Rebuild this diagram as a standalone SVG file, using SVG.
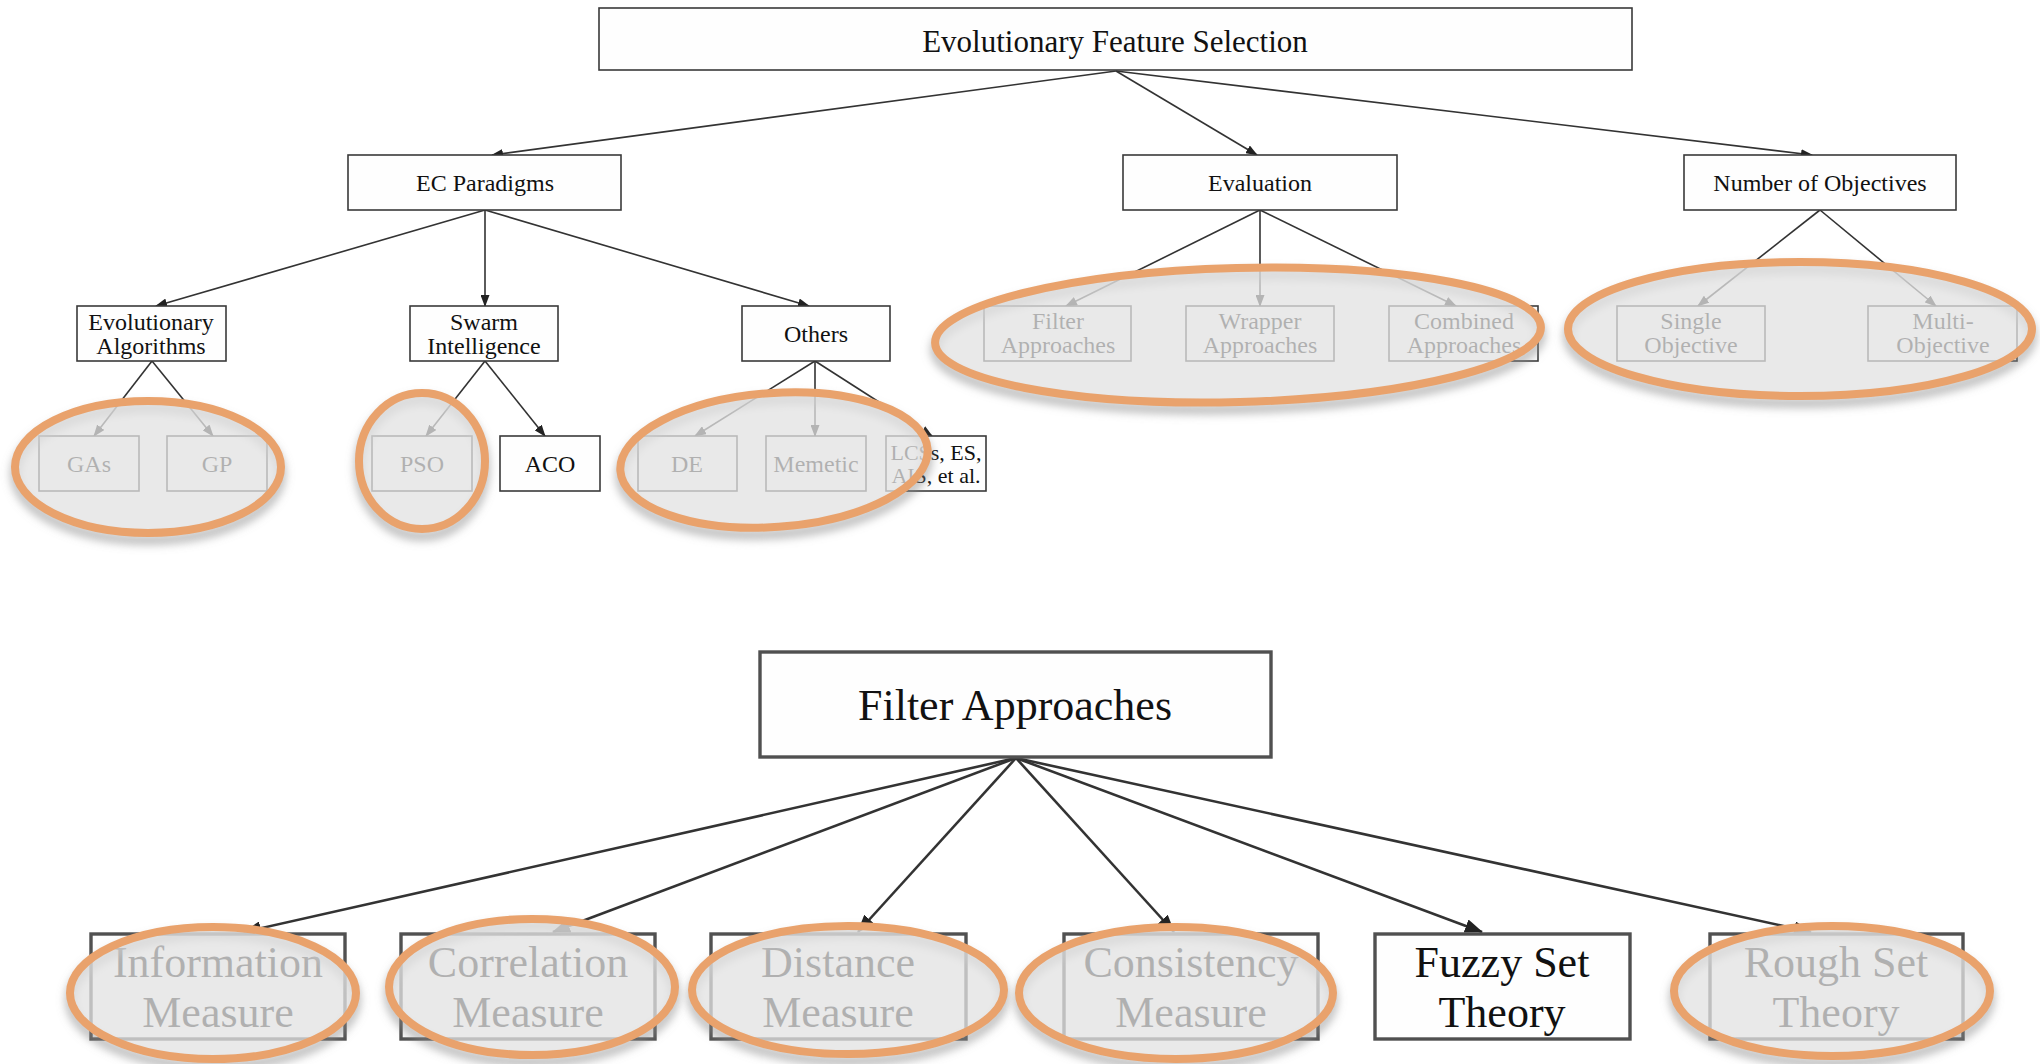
<svg xmlns="http://www.w3.org/2000/svg" width="2040" height="1064" viewBox="0 0 2040 1064">
<style>
  .box{fill:#fefefe;stroke:#3a3a3a;stroke-width:1.6}
  .bbox{fill:#fefefe;stroke:#505050;stroke-width:3.4}
  .t{font-family:"Liberation Serif","Times New Roman",serif;fill:#111;text-anchor:middle}
  .s24{font-size:24px}
  .s22{font-size:22px}
  .s31{font-size:31px}
  .s44{font-size:44px}
  .e{stroke:#333;stroke-width:1.6;fill:none;marker-end:url(#ah)}
  .eb{stroke:#333;stroke-width:2.6;fill:none;marker-end:url(#ahb)}
  .hl{fill:#e2e2e2;fill-opacity:0.76;stroke:#E9A26C;stroke-width:8}
  .hs{fill:none;stroke:#8a8a8a;stroke-opacity:0.55;stroke-width:10;filter:url(#bl)}
</style>
<defs>
  <marker id="ah" markerUnits="userSpaceOnUse" markerWidth="12" markerHeight="9" refX="11" refY="4.5" orient="auto">
    <path d="M0,0 L12,4.5 L0,9 z" fill="#222"/>
  </marker>
  <marker id="ahb" markerUnits="userSpaceOnUse" markerWidth="18" markerHeight="14" refX="17" refY="7" orient="auto">
    <path d="M0,0 L18,7 L0,14 z" fill="#222"/>
  </marker>
  <filter id="bl" x="-20%" y="-30%" width="140%" height="170%">
    <feGaussianBlur stdDeviation="4"/>
  </filter>
</defs>

<rect width="2040" height="1064" fill="#ffffff"/>

<g id="connectors">
  <line class="e" x1="1116" y1="71" x2="492" y2="155"/>
  <line class="e" x1="1116" y1="71" x2="1257" y2="155"/>
  <line class="e" x1="1116" y1="71" x2="1812" y2="155"/>
  <line class="e" x1="485" y1="210" x2="156" y2="306"/>
  <line class="e" x1="485" y1="210" x2="485" y2="306"/>
  <line class="e" x1="485" y1="210" x2="809" y2="306"/>
  <line class="e" x1="1260" y1="210" x2="1066" y2="306"/>
  <line class="e" x1="1260" y1="210" x2="1260" y2="306"/>
  <line class="e" x1="1260" y1="210" x2="1456" y2="306"/>
  <line class="e" x1="1820" y1="210" x2="1698" y2="306"/>
  <line class="e" x1="1820" y1="210" x2="1936" y2="306"/>
  <line class="e" x1="152" y1="361" x2="94" y2="436"/>
  <line class="e" x1="152" y1="361" x2="213" y2="436"/>
  <line class="e" x1="485" y1="361" x2="426" y2="436"/>
  <line class="e" x1="485" y1="361" x2="545" y2="436"/>
  <line class="e" x1="815" y1="361" x2="695" y2="436"/>
  <line class="e" x1="815" y1="361" x2="815" y2="436"/>
  <line class="e" x1="815" y1="361" x2="932" y2="436"/>
  <line class="eb" x1="1016" y1="758" x2="244" y2="932"/>
  <line class="eb" x1="1016" y1="758" x2="553" y2="932"/>
  <line class="eb" x1="1016" y1="758" x2="858" y2="932"/>
  <line class="eb" x1="1016" y1="758" x2="1174" y2="932"/>
  <line class="eb" x1="1016" y1="758" x2="1482" y2="932"/>
  <line class="eb" x1="1016" y1="758" x2="1811" y2="932"/>
</g>

<g id="n-root"><rect class="box" x="599" y="8" width="1033" height="62"/><text class="t s31" x="1115" y="52">Evolutionary Feature Selection</text></g>
<g id="n-ec"><rect class="box" x="348" y="155" width="273" height="55"/><text class="t s24" x="485" y="191">EC Paradigms</text></g>
<g id="n-eval"><rect class="box" x="1123" y="155" width="274" height="55"/><text class="t s24" x="1260" y="191">Evaluation</text></g>
<g id="n-numobj"><rect class="box" x="1684" y="155" width="272" height="55"/><text class="t s24" x="1820" y="191">Number of Objectives</text></g>

<g id="n-ea"><rect class="box" x="77" y="306" width="149" height="55"/><text class="t s24" x="151" y="330">Evolutionary</text><text class="t s24" x="151" y="354">Algorithms</text></g>
<g id="n-si"><rect class="box" x="410" y="306" width="148" height="55"/><text class="t s24" x="484" y="330">Swarm</text><text class="t s24" x="484" y="354">Intelligence</text></g>
<g id="n-others"><rect class="box" x="742" y="306" width="148" height="55"/><text class="t s24" x="816" y="342">Others</text></g>

<g id="n-gas"><rect class="box" x="39" y="436" width="100" height="55"/><text class="t s24" x="89" y="472">GAs</text></g>
<g id="n-gp"><rect class="box" x="167" y="436" width="100" height="55"/><text class="t s24" x="217" y="472">GP</text></g>
<g id="n-pso"><rect class="box" x="372" y="436" width="100" height="55"/><text class="t s24" x="422" y="472">PSO</text></g>
<g id="n-aco"><rect class="box" x="500" y="436" width="100" height="55"/><text class="t s24" x="550" y="472">ACO</text></g>
<g id="n-de"><rect class="box" x="638" y="436" width="99" height="55"/><text class="t s24" x="687" y="472">DE</text></g>
<g id="n-memetic"><rect class="box" x="766" y="436" width="100" height="55"/><text class="t s24" x="816" y="472">Memetic</text></g>
<g id="n-lcs"><rect class="box" x="886" y="436" width="100" height="55"/><text class="t s22" x="936" y="460">LCSs, ES,</text><text class="t s22" x="936" y="483">AIS, et al.</text></g>

<g id="n-filter"><rect class="box" x="984" y="306" width="147" height="55"/><text class="t s24" x="1058" y="329">Filter</text><text class="t s24" x="1058" y="353">Approaches</text></g>
<g id="n-wrapper"><rect class="box" x="1186" y="306" width="148" height="55"/><text class="t s24" x="1260" y="329">Wrapper</text><text class="t s24" x="1260" y="353">Approaches</text></g>
<g id="n-combined"><rect class="box" x="1389" y="306" width="149" height="55"/><text class="t s24" x="1464" y="329">Combined</text><text class="t s24" x="1464" y="353">Approaches</text></g>
<g id="n-single"><rect class="box" x="1617" y="306" width="148" height="55"/><text class="t s24" x="1691" y="329">Single</text><text class="t s24" x="1691" y="353">Objective</text></g>
<g id="n-multi"><rect class="box" x="1868" y="306" width="149" height="55"/><text class="t s24" x="1943" y="329">Multi-</text><text class="t s24" x="1943" y="353">Objective</text></g>

<g id="n-filterapp"><rect class="bbox" x="760" y="652" width="511" height="105"/><text class="t s44" x="1015" y="720">Filter Approaches</text></g>
<g id="n-info"><rect class="bbox" x="91" y="934" width="254" height="105"/><text class="t s44" x="218" y="977">Information</text><text class="t s44" x="218" y="1027">Measure</text></g>
<g id="n-corr"><rect class="bbox" x="401" y="934" width="254" height="105"/><text class="t s44" x="528" y="977">Correlation</text><text class="t s44" x="528" y="1027">Measure</text></g>
<g id="n-dist"><rect class="bbox" x="711" y="934" width="255" height="105"/><text class="t s44" x="838" y="977">Distance</text><text class="t s44" x="838" y="1027">Measure</text></g>
<g id="n-cons"><rect class="bbox" x="1064" y="934" width="254" height="105"/><text class="t s44" x="1191" y="977">Consistency</text><text class="t s44" x="1191" y="1027">Measure</text></g>
<g id="n-fuzzy"><rect class="bbox" x="1375" y="934" width="255" height="105"/><text class="t s44" x="1502" y="977">Fuzzy Set</text><text class="t s44" x="1502" y="1027">Theory</text></g>
<g id="n-rough"><rect class="bbox" x="1710" y="934" width="253" height="105"/><text class="t s44" x="1836" y="977">Rough Set</text><text class="t s44" x="1836" y="1027">Theory</text></g>

<g id="highlight-shadows" transform="translate(0,7)">
  <ellipse class="hs" cx="148" cy="467" rx="133" ry="66"/>
  <ellipse class="hs" cx="422" cy="461" rx="63" ry="68"/>
  <ellipse class="hs" cx="774" cy="460" rx="154" ry="67" transform="rotate(-4 774 460)"/>
  <ellipse class="hs" cx="1238" cy="335" rx="303" ry="67" transform="rotate(-1.5 1238 335)"/>
  <ellipse class="hs" cx="1800" cy="329" rx="232" ry="67"/>
  <ellipse class="hs" cx="213" cy="993" rx="143" ry="66"/>
  <ellipse class="hs" cx="532" cy="987" rx="143" ry="68"/>
  <ellipse class="hs" cx="848" cy="990" rx="156" ry="64"/>
  <ellipse class="hs" cx="1176" cy="993" rx="157" ry="66"/>
  <ellipse class="hs" cx="1832" cy="991" rx="158" ry="65"/>
</g>
<g id="highlights">
  <ellipse class="hl" cx="148" cy="467" rx="133" ry="66"/>
  <ellipse class="hl" cx="422" cy="461" rx="63" ry="68"/>
  <ellipse class="hl" cx="774" cy="460" rx="154" ry="67" transform="rotate(-4 774 460)"/>
  <ellipse class="hl" cx="1238" cy="335" rx="303" ry="67" transform="rotate(-1.5 1238 335)"/>
  <ellipse class="hl" cx="1800" cy="329" rx="232" ry="67"/>
  <ellipse class="hl" cx="213" cy="993" rx="143" ry="66"/>
  <ellipse class="hl" cx="532" cy="987" rx="143" ry="68"/>
  <ellipse class="hl" cx="848" cy="990" rx="156" ry="64"/>
  <ellipse class="hl" cx="1176" cy="993" rx="157" ry="66"/>
  <ellipse class="hl" cx="1832" cy="991" rx="158" ry="65"/>
</g>
</svg>
